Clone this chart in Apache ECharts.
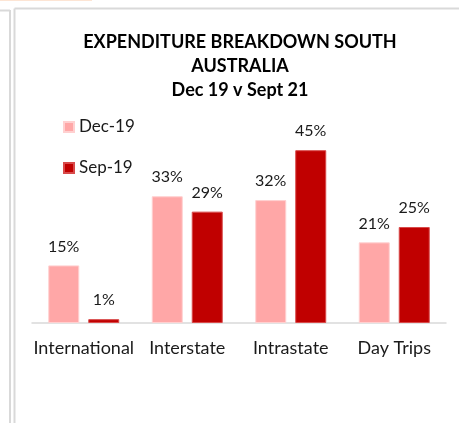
<!DOCTYPE html>
<html>
<head>
<meta charset="utf-8">
<script src="https://cdn.jsdelivr.net/npm/echarts@6/dist/echarts.min.js"></script>
<style>
  html, body { margin: 0; padding: 0; background: #fff; }
  #chart { width: 459px; height: 423px; }
</style>
</head>
<body>
<div id="chart"></div>
<script>
// data
const categories = ['International', 'Interstate', 'Intrastate', 'Day Trips'];
const seriesNames = ['Dec-19', 'Sep-19'];
const dec19 = [15, 33, 32, 21];
const sep19 = [1, 29, 45, 25];

const FONT = 'Lato, "Open Sans", sans-serif';
const DEC_COLOR = '#ffa7a7';
const SEP_COLOR = '#c00000';

// worksheet-ish frame lines around the chart
const frameColor = '#d9d9d9';
function frameLine(x1, y1, x2, y2, color, w) {
  return {
    type: 'line',
    silent: true,
    shape: { x1, y1, x2, y2 },
    style: { stroke: color || frameColor, lineWidth: w || 2 }
  };
}

const chart = echarts.init(document.getElementById('chart'), null, { renderer: 'canvas' });

const barLabel = {
  show: true,
  position: 'top',
  distance: 11,
  fontFamily: FONT,
  fontSize: 16,
  lineHeight: 16,
  color: '#1a1a1a',
  formatter: p => p.value + '%'
};

chart.setOption({
  animation: false,
  backgroundColor: '#fff',
  title: {
    text: 'EXPENDITURE BREAKDOWN SOUTH\nAUSTRALIA\nDec 19 v Sept 21',
    left: 240,
    top: 30,
    padding: 0,
    textAlign: 'center',
    textStyle: {
      fontFamily: FONT,
      fontSize: 18,
      fontWeight: 'bold',
      lineHeight: 24,
      color: '#000'
    }
  },
  legend: {
    data: seriesNames,
    orient: 'vertical',
    left: 63,
    top: 117,
    padding: 0,
    itemWidth: 10,
    itemHeight: 10,
    itemGap: 21,
    icon: 'rect',
    textStyle: { fontFamily: FONT, fontSize: 17, lineHeight: 20, color: '#1a1a1a' }
  },
  grid: { left: 32, right: 13, top: 131, bottom: 100 },
  xAxis: {
    type: 'category',
    data: categories,
    axisLine: { lineStyle: { color: '#d9d9d9', width: 1.5 } },
    axisTick: { show: false },
    axisLabel: {
      margin: 15,
      fontFamily: FONT,
      fontSize: 18,
      lineHeight: 20,
      color: '#1a1a1a',
      interval: 0
    }
  },
  yAxis: {
    type: 'value',
    min: 0,
    max: 50,
    show: false,
    splitLine: { show: false }
  },
  series: [
    {
      name: seriesNames[0],
      type: 'bar',
      data: dec19,
      barWidth: 31,
      barGap: '29%',
      itemStyle: { color: DEC_COLOR, borderColor: '#ffd0d0', borderWidth: 1 },
      label: barLabel
    },
    {
      name: seriesNames[1],
      type: 'bar',
      data: sep19,
      barWidth: 31,
      itemStyle: { color: SEP_COLOR, borderColor: '#d84a4a', borderWidth: 1 },
      label: barLabel
    }
  ],
  graphic: [
    frameLine(0, 0.5, 92, 0.5, '#fde5d4', 1),
    frameLine(0, 10.5, 10, 10.5),
    frameLine(10, 10, 10, 423),
    frameLine(14.5, 8.5, 459, 8.5),
    frameLine(14.5, 8.5, 14.5, 423)
  ]
});
</script>
</body>
</html>
